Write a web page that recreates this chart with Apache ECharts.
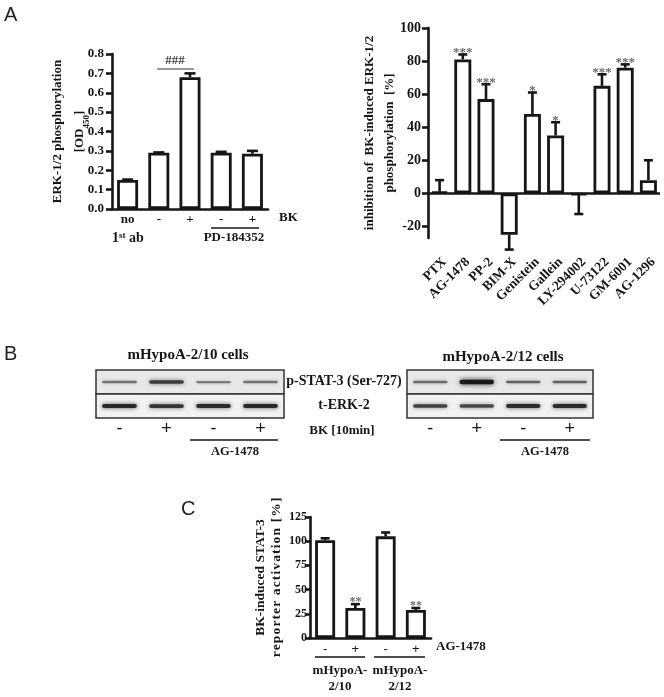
<!DOCTYPE html>
<html><head><meta charset="utf-8">
<script src="https://cdn.jsdelivr.net/npm/echarts@6/dist/echarts.min.js"></script>
<style>html,body{margin:0;padding:0;background:#fff}#c{width:664px;height:697px}</style>
</head><body><div id="c"></div>
<script>
// ---- Panel A (left): ERK-1/2 phosphorylation ----
const erkCats = ['no', '-', '+', '-', '+'];
const erkVals = [0.15, 0.29, 0.68, 0.29, 0.285];
const erkErr  = [0.152, 0.292, 0.70, 0.295, 0.30];
const erkTicks = [0, 0.1, 0.2, 0.3, 0.4, 0.5, 0.6, 0.7, 0.8];

// ---- Panel A (right): inhibition of BK-induced ERK-1/2 phosphorylation ----
const inhCats = ['PTX', 'AG-1478', 'PP-2', 'BIM-X', 'Genistein', 'Gallein', 'LY-294002', 'U-73122', 'GM-6001', 'AG-1296'];
const inhVals = [1, 81, 57, -25, 48, 35, -1, 65, 76, 8];
const inhErr  = [8, 84, 66, -34, 61, 43, -12.5, 72, 78, 20];
const inhSig  = ['', '***', '***', '', '*', '*', '', '***', '***', ''];
const inhTicks = [-20, 0, 20, 40, 60, 80, 100];

// ---- Panel B: western blots (relative band darkness per lane) ----
const blotLanes = ['-', '+', '-', '+'];
const blotRows = ['p-STAT-3 (Ser-727)', 't-ERK-2'];
const blot10pSTAT = [0.30, 0.70, 0.25, 0.30];
const blot10tERK  = [0.85, 0.75, 0.80, 0.85];
const blot12pSTAT = [0.35, 1.00, 0.40, 0.40];
const blot12tERK  = [0.65, 0.60, 0.80, 0.80];

// ---- Panel C: BK-induced STAT-3 reporter activation ----
const statCats = ['-', '+', '-', '+'];
const statVals = [101, 31, 105, 29];
const statErr  = [103, 35, 109, 31];
const statSig  = ['', '**', '', '**'];
const statTicks = [0, 25, 50, 75, 100, 125];

const serif = "'Liberation Serif','DejaVu Serif',serif";
const sans = "'Liberation Sans','DejaVu Sans',sans-serif";
const INK = '#161616';
const spaced = s => s.split('').join('\u200A');

const chart = echarts.init(document.getElementById('c'), null, {renderer: 'canvas', width: 664, height: 697});

function errSeries(gi, vals, errs, sig, cap, fs) {
  return {
    type: 'custom', xAxisIndex: gi, yAxisIndex: gi, clip: false, z: 4,
    data: vals.map((v, i) => [i, v, errs[i]]),
    renderItem: (params, api) => {
      const i = api.value(0), v = api.value(1), e = api.value(2);
      const a = api.coord([i, v]), b = api.coord([i, e]);
      const children = [
        {type: 'line', shape: {x1: a[0], y1: a[1], x2: b[0], y2: b[1]}, style: {stroke: INK, lineWidth: 2.6}},
        {type: 'line', shape: {x1: b[0] - cap, y1: b[1], x2: b[0] + cap, y2: b[1]}, style: {stroke: INK, lineWidth: 2.6}}
      ];
      const s = sig ? sig[params.dataIndex] : '';
      if (s) children.push({type: 'text', x: b[0], y: b[1] - 2,
        style: {text: s, fill: '#6a6a6a', font: 'bold ' + fs + 'px ' + serif, align: 'center', verticalAlign: 'middle'}});
      return {type: 'group', children};
    }
  };
}
function barSeries(gi, vals, w) {
  return {type: 'bar', xAxisIndex: gi, yAxisIndex: gi, data: vals, barWidth: w, z: 3,
    itemStyle: {color: '#fff', borderColor: INK, borderWidth: 2.8}};
}
function blotBg(gi) {
  return {type: 'custom', xAxisIndex: gi, yAxisIndex: gi, z: 1,
    data: blotRows.map((r, i) => [0, i]),
    renderItem: (params, api) => {
      const cs = params.coordSys;
      const c = api.coord([0, api.value(1)]);
      const h = api.size([1, 1])[1];
      return {type: 'rect', shape: {x: cs.x, y: c[1] - h / 2, width: cs.width, height: h},
        style: {fill: api.value(1) === 0 ? '#e8e8e8' : '#f2f2f2', stroke: '#333', lineWidth: 1.5}};
    }};
}
function blotBands(gi, pRow, tRow) {
  const data = [];
  pRow.forEach((d, i) => data.push([i, 0, d]));
  tRow.forEach((d, i) => data.push([i, 1, d]));
  return {type: 'custom', xAxisIndex: gi, yAxisIndex: gi, z: 2, data,
    renderItem: (params, api) => {
      const c = api.coord([api.value(0), api.value(1)]);
      const sz = api.size([1, 1]);
      const d = api.value(2);
      const bw = sz[0] * 0.74, bh = 1.5 + 3 * d;
      const col = 'rgba(20,20,20,' + (0.3 + 0.65 * d).toFixed(2) + ')';
      return {type: 'rect', shape: {x: c[0] - bw / 2, y: c[1] - bh / 2, width: bw, height: bh, r: bh / 2},
        style: {fill: col, shadowBlur: 3 + 2 * d, shadowColor: col}};
    }};
}

const tickLbl = {color: INK, fontFamily: serif, fontWeight: 'bold', fontSize: 13};
const yBase = {
  axisLine: {show: true, lineStyle: {color: INK, width: 2.6}},
  axisTick: {show: true, length: 6, lineStyle: {color: INK, width: 2.6}},
  splitLine: {show: false},
  nameLocation: 'middle', nameRotate: 90, nameMoveOverlap: false
};

const option = {
  animation: false,
  backgroundColor: '#fff',
  grid: [
    {left: 112, top: 54, width: 156, height: 155},
    {left: 428, top: 28, width: 232, height: 210},
    {left: 310, top: 517, width: 121, height: 121},
    {left: 96, top: 370, width: 188, height: 48},
    {left: 407, top: 370, width: 186, height: 48}
  ],
  xAxis: [
    {gridIndex: 0, type: 'category', data: erkCats,
      axisLine: {lineStyle: {color: INK, width: 2.6}}, axisTick: {show: false},
      axisLabel: {color: INK, fontFamily: serif, fontWeight: 'bold', fontSize: 13, margin: 4, interval: 0}},
    {gridIndex: 1, type: 'category', data: inhCats,
      axisLine: {show: false, onZero: false}, axisTick: {show: false},
      axisLabel: {color: INK, fontFamily: serif, fontWeight: 'bold', fontSize: 13.5, rotate: 45, margin: 17,
        verticalAlign: 'top', interval: 0}},
    {gridIndex: 2, type: 'category', data: statCats,
      axisLine: {lineStyle: {color: INK, width: 2.6}}, axisTick: {show: false},
      axisLabel: {color: INK, fontFamily: sans, fontSize: 13, margin: 5, interval: 0}},
    {gridIndex: 3, type: 'category', data: blotLanes,
      axisLine: {show: false}, axisTick: {show: false},
      axisLabel: {color: INK, fontFamily: sans, fontSize: 18, margin: 2, interval: 0}},
    {gridIndex: 4, type: 'category', data: blotLanes,
      axisLine: {show: false}, axisTick: {show: false},
      axisLabel: {color: INK, fontFamily: sans, fontSize: 18, margin: 2, interval: 0}}
  ],
  yAxis: [
    Object.assign({}, yBase, {gridIndex: 0, type: 'value', min: 0, max: 0.8, interval: 0.1,
      axisLabel: Object.assign({}, tickLbl, {margin: 8, formatter: v => v.toFixed(1)}),
      name: 'ERK-1/2 phosphorylation\n[OD{sub|450}]', nameGap: 21,
      nameTextStyle: {color: INK, fontFamily: serif, fontWeight: 'bold', fontSize: 13, lineHeight: 22,
        rich: {sub: {fontFamily: serif, fontWeight: 'bold', fontSize: 9, verticalAlign: 'bottom', lineHeight: 14, color: INK}}}}),
    Object.assign({}, yBase, {gridIndex: 1, type: 'value', min: -27, max: 100,
      axisLabel: Object.assign({}, tickLbl, {fontSize: 14, margin: 7, customValues: inhTicks}),
      axisTick: {show: true, length: 6, lineStyle: {color: INK, width: 2.6}, customValues: inhTicks},
      name: 'inhibition of  BK-induced ERK-1/2\nphosphorylation  [%]', nameGap: 28,
      nameTextStyle: {color: INK, fontFamily: serif, fontWeight: 'bold', fontSize: 13, lineHeight: 20}}),
    Object.assign({}, yBase, {gridIndex: 2, type: 'value', min: 0, max: 125, interval: 25,
      axisLabel: Object.assign({}, tickLbl, {fontSize: 12, margin: 3}),
      axisTick: {show: true, length: 5, lineStyle: {color: INK, width: 2.6}},
      name: 'BK-induced STAT-3\n' + spaced('reporter activation [%]'), nameGap: 25,
      nameTextStyle: {color: INK, fontFamily: serif, fontWeight: 'bold', fontSize: 13.5, lineHeight: 16}}),
    {gridIndex: 3, type: 'category', data: blotRows, inverse: true, show: false},
    {gridIndex: 4, type: 'category', data: blotRows, inverse: true, show: false}
  ],
  series: [
    barSeries(0, erkVals, 21),
    errSeries(0, erkVals, erkErr, null, 5.5, 13),
    Object.assign(barSeries(1, inhVals, 17), {
      markLine: {silent: true, symbol: 'none', label: {show: false}, animation: false,
        lineStyle: {color: INK, width: 2.6, type: 'solid'}, data: [{yAxis: 0}]}}),
    errSeries(1, inhVals, inhErr, inhSig, 4.5, 13),
    barSeries(2, statVals, 20),
    errSeries(2, statVals, statErr, statSig, 4.5, 12),
    blotBg(3), blotBands(3, blot10pSTAT, blot10tERK),
    blotBg(4), blotBands(4, blot12pSTAT, blot12tERK)
  ],
  graphic: [
    {type: 'text', x: 4, y: 5, style: {text: 'A', font: '20px ' + sans, fill: '#222'}},
    {type: 'text', x: 4, y: 344, style: {text: 'B', font: '20px ' + sans, fill: '#222'}},
    {type: 'text', x: 181, y: 499, style: {text: 'C', font: '20px ' + sans, fill: '#222'}},
    // panel A left annotations
    {type: 'text', x: 175, y: 61, style: {text: '###', font: 'bold 13px ' + serif, fill: '#444', align: 'center', verticalAlign: 'middle'}},
    {type: 'line', shape: {x1: 157, y1: 69, x2: 194, y2: 69}, style: {stroke: '#333', lineWidth: 1}},
    {type: 'text', x: 279, y: 218, style: {text: 'BK', font: 'bold 13px ' + serif, fill: INK, verticalAlign: 'middle'}},
    {type: 'text', x: 128, y: 238, style: {text: '1{sup|st} ab', font: 'bold 14px ' + serif, fill: INK, align: 'center', verticalAlign: 'middle',
      rich: {sup: {font: 'bold 9px ' + serif, fill: INK, verticalAlign: 'top', lineHeight: 10}}}},
    {type: 'line', shape: {x1: 211, y1: 228, x2: 259, y2: 228}, style: {stroke: INK, lineWidth: 1.5}},
    {type: 'text', x: 234, y: 238, style: {text: 'PD-184352', font: 'bold 13px ' + serif, fill: INK, align: 'center', verticalAlign: 'middle'}},
    // panel B annotations
    {type: 'text', x: 188, y: 355, style: {text: 'mHypoA-2/10 cells', font: 'bold 15px ' + serif, fill: INK, align: 'center', verticalAlign: 'middle'}},
    {type: 'text', x: 503, y: 357, style: {text: 'mHypoA-2/12 cells', font: 'bold 15px ' + serif, fill: INK, align: 'center', verticalAlign: 'middle'}},
    {type: 'text', x: 344, y: 381, style: {text: 'p-STAT-3 (Ser-727)', font: 'bold 14px ' + serif, fill: INK, align: 'center', verticalAlign: 'middle'}},
    {type: 'text', x: 344, y: 405, style: {text: 't-ERK-2', font: 'bold 14px ' + serif, fill: INK, align: 'center', verticalAlign: 'middle'}},
    {type: 'text', x: 342, y: 431, style: {text: 'BK [10min]', font: 'bold 13px ' + serif, fill: INK, align: 'center', verticalAlign: 'middle'}},
    {type: 'line', shape: {x1: 190, y1: 440, x2: 278, y2: 440}, style: {stroke: INK, lineWidth: 1.5}},
    {type: 'text', x: 235, y: 452, style: {text: 'AG-1478', font: 'bold 12.5px ' + serif, fill: INK, align: 'center', verticalAlign: 'middle'}},
    {type: 'line', shape: {x1: 500, y1: 440, x2: 590, y2: 440}, style: {stroke: INK, lineWidth: 1.5}},
    {type: 'text', x: 545, y: 452, style: {text: 'AG-1478', font: 'bold 12.5px ' + serif, fill: INK, align: 'center', verticalAlign: 'middle'}},
    // panel C annotations
    {type: 'text', x: 436, y: 647, style: {text: 'AG-1478', font: 'bold 13px ' + serif, fill: INK, verticalAlign: 'middle'}},
    {type: 'line', shape: {x1: 315, y1: 657, x2: 365, y2: 657}, style: {stroke: INK, lineWidth: 1.5}},
    {type: 'line', shape: {x1: 374, y1: 657, x2: 425, y2: 657}, style: {stroke: INK, lineWidth: 1.5}},
    {type: 'text', x: 340, y: 671, style: {text: 'mHypoA-', font: 'bold 13px ' + serif, fill: INK, align: 'center', verticalAlign: 'middle'}},
    {type: 'text', x: 400, y: 671, style: {text: 'mHypoA-', font: 'bold 13px ' + serif, fill: INK, align: 'center', verticalAlign: 'middle'}},
    {type: 'text', x: 340, y: 687, style: {text: '2/10', font: 'bold 13px ' + serif, fill: INK, align: 'center', verticalAlign: 'middle'}},
    {type: 'text', x: 400, y: 687, style: {text: '2/12', font: 'bold 13px ' + serif, fill: INK, align: 'center', verticalAlign: 'middle'}}
  ]
};
chart.setOption(option);
</script>
</body></html>
